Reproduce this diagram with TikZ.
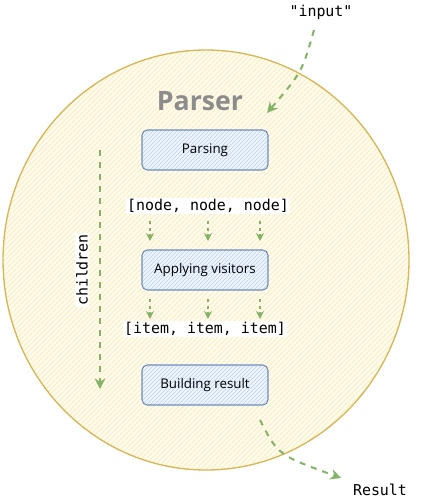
\documentclass[tikz,border=0pt]{standalone}
\usepackage{fontspec}
\setmainfont{Open Sans}
\setmonofont{DejaVu Sans Mono}
\usetikzlibrary{arrows.meta}
\definecolor{ystroke}{HTML}{D6B656}
\definecolor{yfill}{HTML}{FFFCF2}
\definecolor{yhatch}{HTML}{FFEBB8}
\definecolor{bstroke}{HTML}{6C8EBF}
\definecolor{bfill}{HTML}{EEF4FD}
\definecolor{bhatch}{HTML}{BCD0EC}
\definecolor{garrow}{HTML}{82B366}
\definecolor{ptext}{HTML}{8C8C8C}
\tikzset{
  stagebox/.style={draw=bstroke, line width=0.8pt, rounded corners=4pt, minimum width=94.5pt, minimum height=30pt, font=\fontsize{10}{12}\selectfont, text=black},
  flow/.style={draw=garrow, line width=1.5pt, dash pattern=on 4.5pt off 4.5pt, -{Stealth[length=8pt,width=8pt]}},
  smallflow/.style={draw=garrow, line width=1.1pt, dash pattern=on 2.5pt off 2.5pt, -{Stealth[length=6pt,width=6pt]}},
  monofont/.style={font=\ttfamily\fontsize{11.2}{13}\selectfont},
  monolbl/.style={monofont, fill=white, inner sep=1pt}
}
\begin{document}
\begin{tikzpicture}[x=0.75pt,y=-0.75pt]
\useasboundingbox (0,0) rectangle (441,501);
% big circle
\fill[yfill] (206,260) ellipse [x radius=203, y radius=210];
\begin{scope}
  \clip (206,260) ellipse [x radius=203, y radius=210];
  \foreach \i in {0,...,170} {
    \draw[yhatch, line width=0.6pt] (-20+5*\i,480) -- (-20+5*\i+470,10);
  }
  \foreach \i in {1,...,100} {
    \draw[yhatch, line width=0.6pt] (-20-5*\i,480) -- (-20-5*\i+470,10);
  }
\end{scope}
\draw[ystroke, line width=1pt] (206,260) ellipse [x radius=203, y radius=210];
\node[font=\bfseries\fontsize{20}{24}\selectfont, text=ptext] (parser) at (200,101) {Parser};
% boxes with hatching
\foreach \nm/\cy/\txt in {parsing/150/Parsing, visitors/270/Applying visitors, result/385/Building result} {
  \fill[bfill, rounded corners=4pt] (142,\cy-20) rectangle (268,\cy+20);
  \begin{scope}
    \clip[rounded corners=4pt] (142,\cy-20) rectangle (268,\cy+20);
    \foreach \k in {0,...,40} {
      \draw[bhatch, line width=0.5pt] (100+4*\k,\cy+22) -- (100+4*\k+44,\cy-22);
    }
  \end{scope}
  \node[stagebox] (\nm) at (205,\cy) {\txt};
}
% lists
\node[monolbl] (nodes) at (208,206) {[node, node, node]};
\node[monolbl] (items) at (205,329) {[item, item, item]};
% small arrows
\foreach \x [count=\n] in {150,208,260} {
  \coordinate (na\n) at (\x,221);
  \coordinate (nb\n) at (\x,241);
  \draw[smallflow] (na\n) -- (nb\n);
  \coordinate (ia\n) at (\x,299);
  \coordinate (ib\n) at (\x,319);
  \draw[smallflow] (ia\n) -- (ib\n);
}
% children
\coordinate (cha) at (100,150);
\coordinate (chb) at (100,389);
\draw[flow] (cha) -- (chb);
\node[monolbl, rotate=90] (children) at (82,270) {children};
% input
\node[monofont] (input) at (321,12) {"input"};
\coordinate (ina) at (314,30);
\coordinate (inb) at (267,113);
\draw[flow] (ina) .. controls (302,72) .. (inb);
% result
\node[monofont] (res) at (380,490) {Result};
\coordinate (ra) at (260,420);
\coordinate (rb) at (341,478);
\draw[flow] (ra) .. controls (278,455) .. (rb);
\end{tikzpicture}
\end{document}
